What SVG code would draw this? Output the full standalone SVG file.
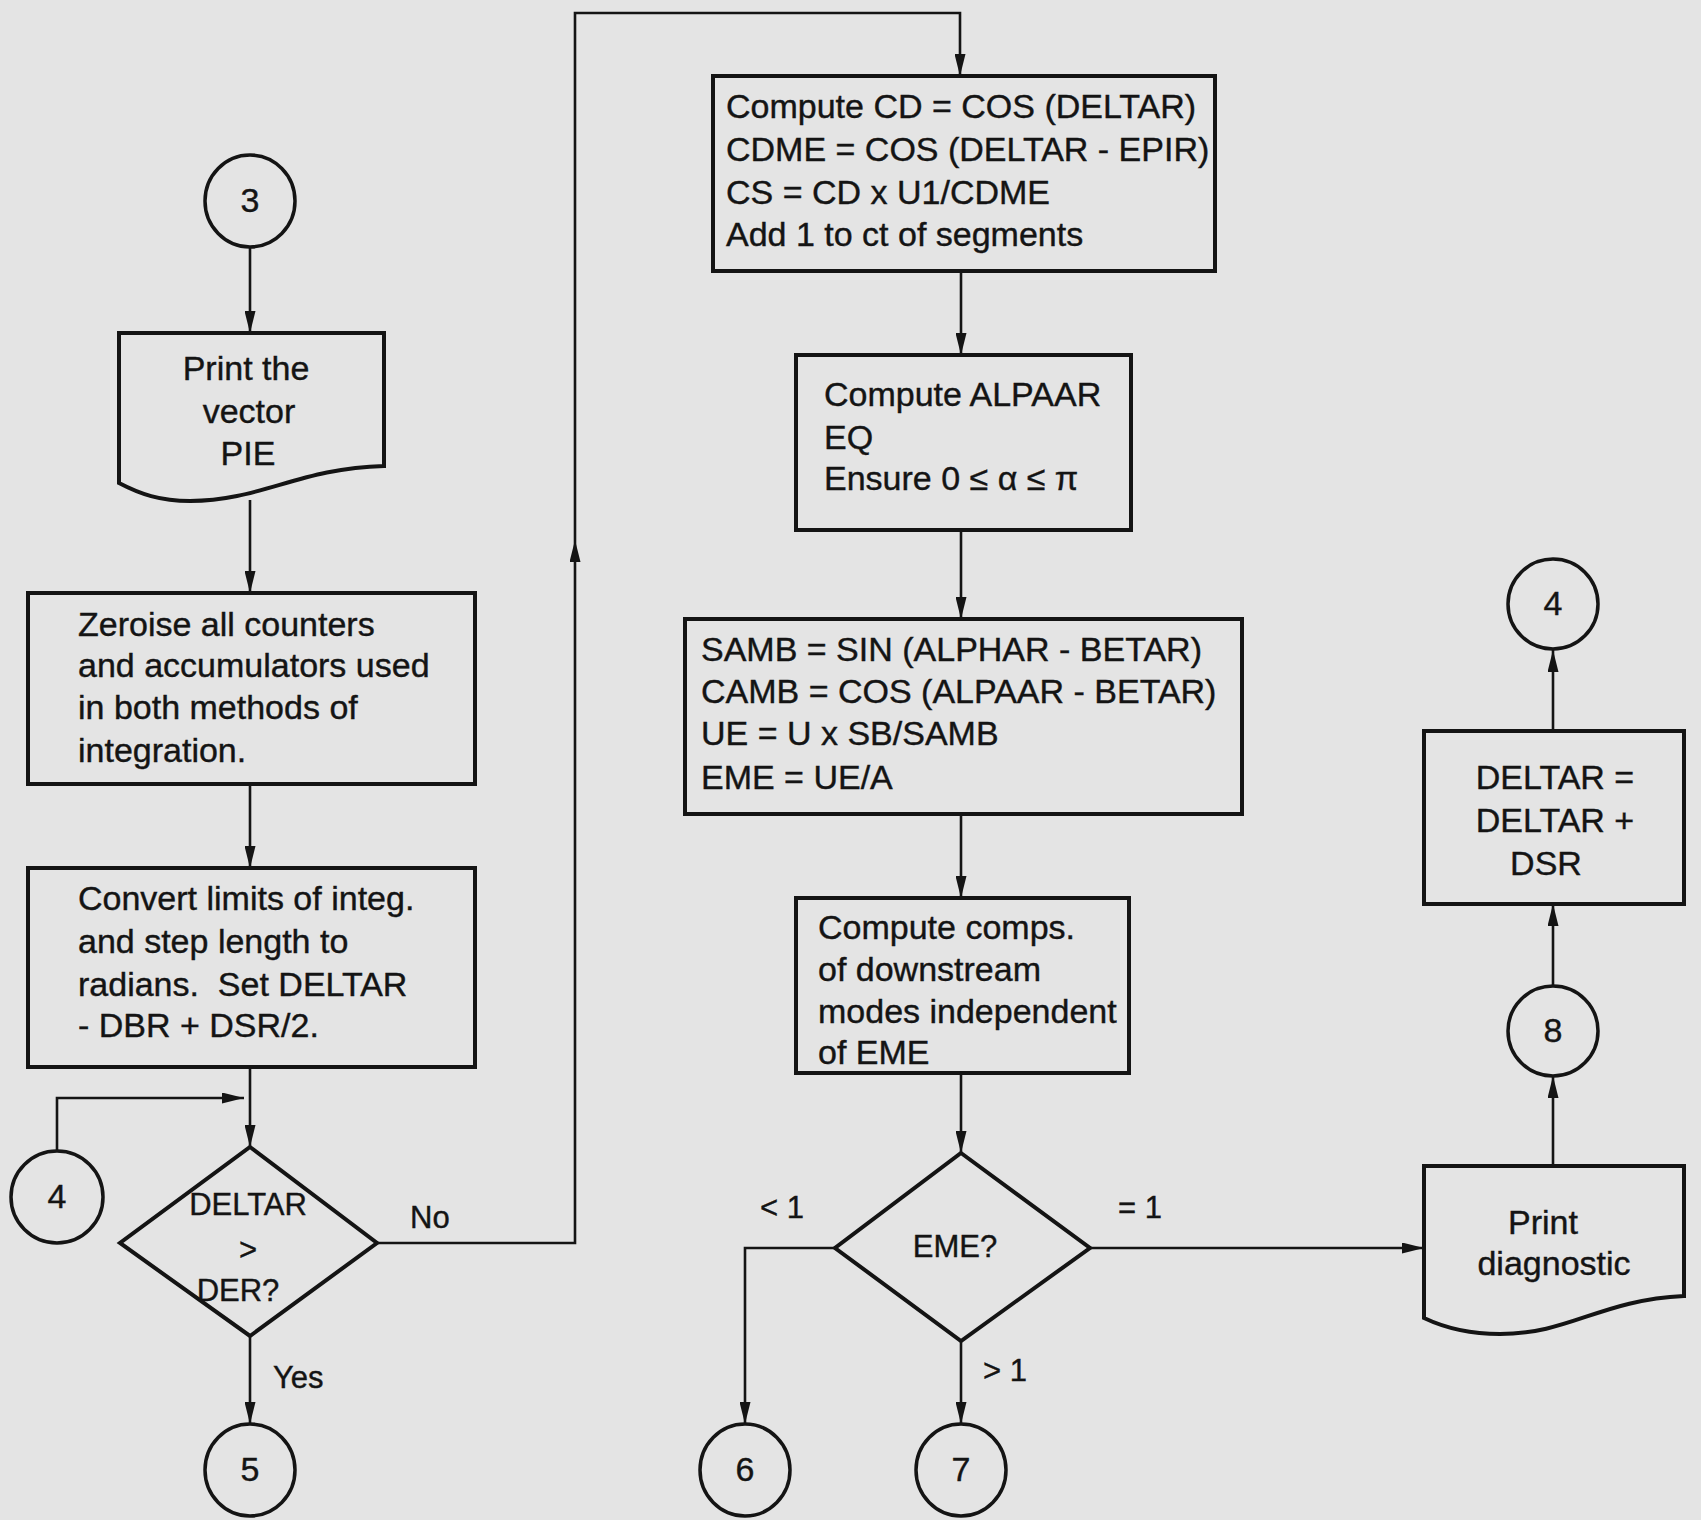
<svg xmlns="http://www.w3.org/2000/svg" width="1701" height="1520" viewBox="0 0 1701 1520">
<style>
.bg{fill:#e4e4e4}
.box{fill:none;stroke:#141414;stroke-width:4;stroke-linejoin:miter}
.circ{fill:none;stroke:#141414;stroke-width:3.5}
.conn{fill:none;stroke:#141414;stroke-width:2.6}
text{font-family:"Liberation Sans",Arial,sans-serif;fill:#141414;stroke:#141414;stroke-width:0.4;font-size:34px}
.c{text-anchor:middle}
.d{font-size:31px}
.lbl{font-size:31px}
</style>
<defs>
<marker id="ah" viewBox="0 0 22 11" refX="22" refY="5.5" markerWidth="22" markerHeight="11" markerUnits="userSpaceOnUse" orient="auto">
<path d="M0,0 L22,5.5 L0,11 z" fill="#141414"/>
</marker>
</defs>
<rect class="bg" x="0" y="0" width="1701" height="1520"/>

<g id="connectors">
<path class="conn" d="M250,247 V333" marker-end="url(#ah)"/>
<path class="conn" d="M250,500 V593" marker-end="url(#ah)"/>
<path class="conn" d="M250,784 V868" marker-end="url(#ah)"/>
<path class="conn" d="M250,1067 V1147" marker-end="url(#ah)"/>
<path class="conn" d="M57,1151 V1098 H244" marker-end="url(#ah)"/>
<path class="conn" d="M377,1243 H575 V540" marker-end="url(#ah)"/>
<path class="conn" d="M575,540 V13 H960 V76" marker-end="url(#ah)"/>
<path class="conn" d="M250,1336 V1424" marker-end="url(#ah)"/>
<path class="conn" d="M961,271 V355" marker-end="url(#ah)"/>
<path class="conn" d="M961,530 V619" marker-end="url(#ah)"/>
<path class="conn" d="M961,814 V898" marker-end="url(#ah)"/>
<path class="conn" d="M961,1073 V1153" marker-end="url(#ah)"/>
<path class="conn" d="M835,1248 H745 V1424" marker-end="url(#ah)"/>
<path class="conn" d="M961,1341 V1424" marker-end="url(#ah)"/>
<path class="conn" d="M1090,1248 H1424" marker-end="url(#ah)"/>
<path class="conn" d="M1553,1166 V1076" marker-end="url(#ah)"/>
<path class="conn" d="M1553,985 V904" marker-end="url(#ah)"/>
<path class="conn" d="M1553,731 V650" marker-end="url(#ah)"/>
<text class="lbl" x="410" y="1228">No</text>
<text class="lbl" x="273" y="1388">Yes</text>
<text class="lbl" x="760" y="1218">&lt; 1</text>
<text class="lbl" x="1118" y="1218">= 1</text>
<text class="lbl" x="983" y="1381">&gt; 1</text>
</g>

<g id="c3">
<ellipse class="circ" cx="250" cy="201" rx="45" ry="46"/>
<text class="c" x="250" y="212">3</text>
</g>

<g id="printPIE">
<path class="box" d="M119,483 V333 H384 V466 C300,468 260,501 190,501 C160,501 140,494 119,483 Z"/>
<text class="c" x="246" y="380">Print the</text>
<text class="c" x="249" y="423">vector</text>
<text class="c" x="248" y="465">PIE</text>
</g>

<g id="zeroise">
<rect class="box" x="28" y="593" width="447" height="191"/>
<text x="78" y="636">Zeroise all counters</text>
<text x="78" y="677">and accumulators used</text>
<text x="78" y="719">in both methods of</text>
<text x="78" y="762">integration.</text>
</g>

<g id="convert">
<rect class="box" x="28" y="868" width="447" height="199"/>
<text x="78" y="910">Convert limits of integ.</text>
<text x="78" y="953">and step length to</text>
<text x="78" y="996">radians.&#160; Set DELTAR</text>
<text x="78" y="1037">- DBR + DSR/2.</text>
</g>

<g id="c4left">
<ellipse class="circ" cx="57" cy="1197" rx="46" ry="46"/>
<text class="c" x="57" y="1208">4</text>
</g>

<g id="dec1">
<path class="box" d="M250,1147 L377,1243 L250,1336 L120,1243 Z"/>
<text class="c d" x="248" y="1215">DELTAR</text>
<text class="c d" x="248" y="1260">&gt;</text>
<text class="c d" x="238" y="1301">DER?</text>
</g>

<g id="c5">
<ellipse class="circ" cx="250" cy="1470" rx="45" ry="46"/>
<text class="c" x="250" y="1481">5</text>
</g>

<g id="cd">
<rect class="box" x="713" y="76" width="502" height="195"/>
<text x="726" y="118">Compute CD = COS (DELTAR)</text>
<text x="726" y="161">CDME = COS (DELTAR - EPIR)</text>
<text x="726" y="204">CS = CD x U1/CDME</text>
<text x="726" y="246">Add 1 to ct of segments</text>
</g>

<g id="alpaar">
<rect class="box" x="796" y="355" width="335" height="175"/>
<text x="824" y="406">Compute ALPAAR</text>
<text x="824" y="449">EQ</text>
<text x="824" y="490">Ensure 0 ≤ α ≤ π</text>
</g>

<g id="samb">
<rect class="box" x="685" y="619" width="557" height="195"/>
<text x="701" y="661">SAMB = SIN (ALPHAR - BETAR)</text>
<text x="701" y="703">CAMB = COS (ALPAAR - BETAR)</text>
<text x="701" y="745">UE = U x SB/SAMB</text>
<text x="701" y="789">EME = UE/A</text>
</g>

<g id="comps">
<rect class="box" x="796" y="898" width="333" height="175"/>
<text x="818" y="939">Compute comps.</text>
<text x="818" y="981">of downstream</text>
<text x="818" y="1023">modes independent</text>
<text x="818" y="1064">of EME</text>
</g>

<g id="dec2">
<path class="box" d="M961,1153 L1090,1248 L961,1341 L835,1248 Z"/>
<text class="c d" x="955" y="1257">EME?</text>
</g>

<g id="c6">
<ellipse class="circ" cx="745" cy="1470" rx="45" ry="46"/>
<text class="c" x="745" y="1481">6</text>
</g>

<g id="c7">
<ellipse class="circ" cx="961" cy="1470" rx="45" ry="46"/>
<text class="c" x="961" y="1481">7</text>
</g>

<g id="diag">
<path class="box" d="M1424,1318 V1166 H1684 V1296 C1600,1300 1570,1334 1500,1334 C1470,1334 1445,1328 1424,1318 Z"/>
<text class="c" x="1543" y="1234">Print</text>
<text class="c" x="1554" y="1275">diagnostic</text>
</g>

<g id="c8">
<ellipse class="circ" cx="1553" cy="1031" rx="45" ry="45"/>
<text class="c" x="1553" y="1042">8</text>
</g>

<g id="deltar">
<rect class="box" x="1424" y="731" width="260" height="173"/>
<text class="c" x="1555" y="789">DELTAR =</text>
<text class="c" x="1555" y="832">DELTAR +</text>
<text class="c" x="1546" y="875">DSR</text>
</g>

<g id="c4right">
<ellipse class="circ" cx="1553" cy="604" rx="45" ry="45"/>
<text class="c" x="1553" y="615">4</text>
</g>
</svg>
